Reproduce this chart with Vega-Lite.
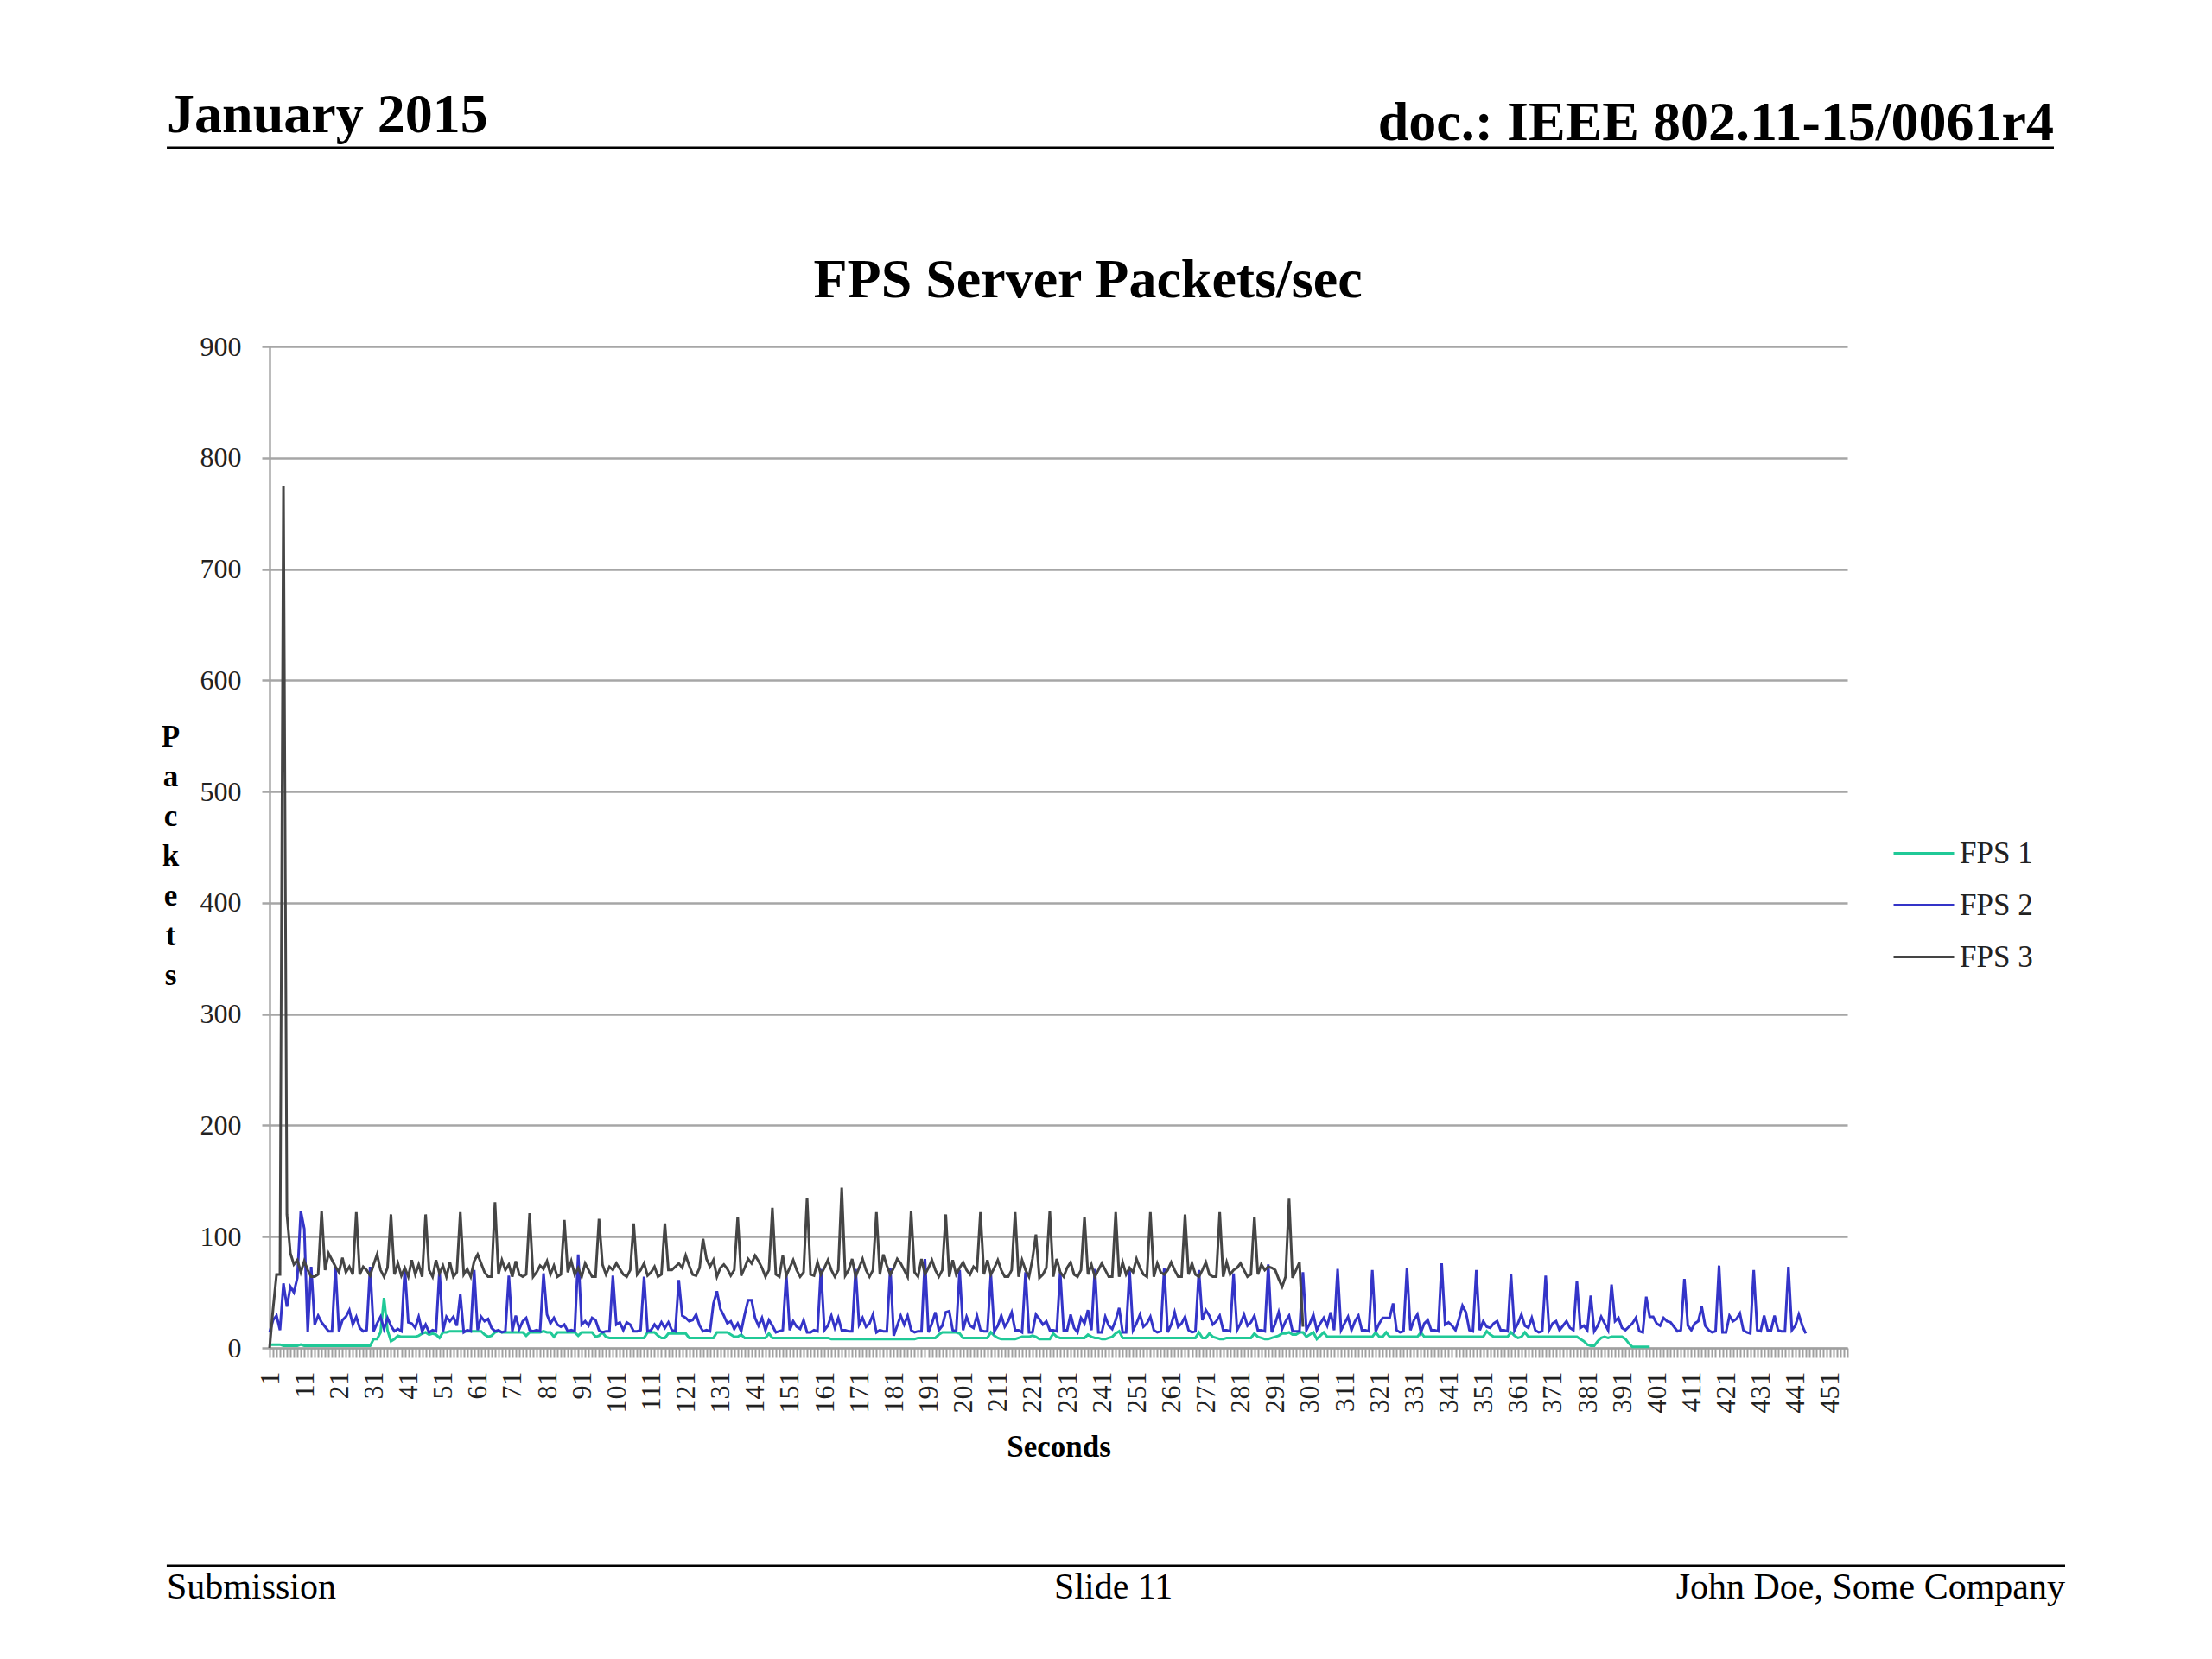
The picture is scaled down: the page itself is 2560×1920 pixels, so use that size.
{
  "$schema": "https://vega.github.io/schema/vega-lite/v6.json",
  "description": "FPS Server Packets/sec slide",
  "background": "white",
  "padding": {"left": 186, "top": 101, "right": 10, "bottom": 10},
  "columns": 1,
  "align": "none",
  "spacing": 118,
  "resolve": {"scale": {"color": "independent"}, "legend": {"color": "independent"}},
  "config": {"view": {"stroke": null}, "font": "Liberation Serif"},
  "concat": [
    {
      "width": 2065,
      "height": 70,
      "data": {"values": [{}]},
      "layer": [
        {
          "mark": {"type": "rule", "color": "black", "strokeWidth": 3},
          "encoding": {
            "x": {"datum": -0.0576, "type": "quantitative", "scale": {"domain": [0, 1]}, "axis": null},
            "x2": {"datum": 1},
            "y": {"datum": 0, "type": "quantitative", "scale": {"domain": [0, 1]}, "axis": null}
          }
        },
        {
          "mark": {"type": "text", "text": "January 2015", "align": "left", "baseline": "alphabetic", "font": "Liberation Serif", "fontSize": 64, "fontWeight": "bold", "color": "black"},
          "encoding": {
            "x": {"datum": -0.0576, "type": "quantitative", "axis": null},
            "y": {"datum": 0.257, "type": "quantitative", "axis": null}
          }
        },
        {
          "mark": {"type": "text", "text": "doc.: IEEE 802.11-15/0061r4", "align": "right", "baseline": "alphabetic", "font": "Liberation Serif", "fontSize": 64, "fontWeight": "bold", "color": "black"},
          "encoding": {
            "x": {"datum": 1, "type": "quantitative", "axis": null},
            "y": {"datum": 0.129, "type": "quantitative", "axis": null}
          }
        }
      ]
    },
    {
      "width": 1826,
      "height": 1159,
      "title": {"text": "FPS Server Packets/sec", "font": "Liberation Serif", "fontSize": 64, "fontWeight": "bold", "color": "black", "anchor": "middle", "frame": "group", "dx": 34, "offset": 28},
      "data": {"values": [
        {"t":1,"FPS 1":3,"FPS 2":14,"FPS 3":0},
        {"t":2,"FPS 1":3,"FPS 2":25,"FPS 3":35},
        {"t":3,"FPS 1":3,"FPS 2":29,"FPS 3":66},
        {"t":4,"FPS 1":3,"FPS 2":16,"FPS 3":66},
        {"t":5,"FPS 1":2,"FPS 2":58,"FPS 3":775},
        {"t":6,"FPS 1":2,"FPS 2":37,"FPS 3":120},
        {"t":7,"FPS 1":2,"FPS 2":55,"FPS 3":85},
        {"t":8,"FPS 1":2,"FPS 2":50,"FPS 3":75},
        {"t":9,"FPS 1":2,"FPS 2":63,"FPS 3":79},
        {"t":10,"FPS 1":3,"FPS 2":123,"FPS 3":68},
        {"t":11,"FPS 1":2,"FPS 2":107,"FPS 3":78},
        {"t":12,"FPS 1":2,"FPS 2":14,"FPS 3":70},
        {"t":13,"FPS 1":2,"FPS 2":73,"FPS 3":64},
        {"t":14,"FPS 1":2,"FPS 2":21,"FPS 3":64},
        {"t":15,"FPS 1":2,"FPS 2":29,"FPS 3":66},
        {"t":16,"FPS 1":2,"FPS 2":23,"FPS 3":123},
        {"t":17,"FPS 1":2,"FPS 2":19,"FPS 3":70},
        {"t":18,"FPS 1":2,"FPS 2":15,"FPS 3":85},
        {"t":19,"FPS 1":2,"FPS 2":15,"FPS 3":79},
        {"t":20,"FPS 1":2,"FPS 2":73,"FPS 3":73},
        {"t":21,"FPS 1":2,"FPS 2":15,"FPS 3":68},
        {"t":22,"FPS 1":2,"FPS 2":25,"FPS 3":81},
        {"t":23,"FPS 1":2,"FPS 2":28,"FPS 3":68},
        {"t":24,"FPS 1":2,"FPS 2":34,"FPS 3":73},
        {"t":25,"FPS 1":2,"FPS 2":21,"FPS 3":66},
        {"t":26,"FPS 1":2,"FPS 2":28,"FPS 3":122},
        {"t":27,"FPS 1":2,"FPS 2":18,"FPS 3":66},
        {"t":28,"FPS 1":2,"FPS 2":15,"FPS 3":73},
        {"t":29,"FPS 1":2,"FPS 2":16,"FPS 3":70},
        {"t":30,"FPS 1":2,"FPS 2":73,"FPS 3":65},
        {"t":31,"FPS 1":8,"FPS 2":15,"FPS 3":75},
        {"t":32,"FPS 1":8,"FPS 2":22,"FPS 3":84},
        {"t":33,"FPS 1":14,"FPS 2":28,"FPS 3":70},
        {"t":34,"FPS 1":45,"FPS 2":17,"FPS 3":64},
        {"t":35,"FPS 1":16,"FPS 2":27,"FPS 3":72},
        {"t":36,"FPS 1":6,"FPS 2":20,"FPS 3":120},
        {"t":37,"FPS 1":8,"FPS 2":15,"FPS 3":66},
        {"t":38,"FPS 1":11,"FPS 2":17,"FPS 3":76},
        {"t":39,"FPS 1":10,"FPS 2":15,"FPS 3":65},
        {"t":40,"FPS 1":10,"FPS 2":72,"FPS 3":72},
        {"t":41,"FPS 1":10,"FPS 2":23,"FPS 3":64},
        {"t":42,"FPS 1":10,"FPS 2":22,"FPS 3":79},
        {"t":43,"FPS 1":10,"FPS 2":18,"FPS 3":66},
        {"t":44,"FPS 1":11,"FPS 2":28,"FPS 3":75},
        {"t":45,"FPS 1":13,"FPS 2":15,"FPS 3":64},
        {"t":46,"FPS 1":14,"FPS 2":21,"FPS 3":120},
        {"t":47,"FPS 1":12,"FPS 2":14,"FPS 3":70},
        {"t":48,"FPS 1":13,"FPS 2":16,"FPS 3":64},
        {"t":49,"FPS 1":12,"FPS 2":15,"FPS 3":79},
        {"t":50,"FPS 1":9,"FPS 2":70,"FPS 3":67},
        {"t":51,"FPS 1":14,"FPS 2":15,"FPS 3":74},
        {"t":52,"FPS 1":14,"FPS 2":28,"FPS 3":64},
        {"t":53,"FPS 1":15,"FPS 2":24,"FPS 3":77},
        {"t":54,"FPS 1":15,"FPS 2":28,"FPS 3":64},
        {"t":55,"FPS 1":15,"FPS 2":20,"FPS 3":68},
        {"t":56,"FPS 1":15,"FPS 2":48,"FPS 3":122},
        {"t":57,"FPS 1":15,"FPS 2":14,"FPS 3":66},
        {"t":58,"FPS 1":15,"FPS 2":16,"FPS 3":71},
        {"t":59,"FPS 1":15,"FPS 2":15,"FPS 3":64},
        {"t":60,"FPS 1":15,"FPS 2":70,"FPS 3":78},
        {"t":61,"FPS 1":15,"FPS 2":16,"FPS 3":84},
        {"t":62,"FPS 1":15,"FPS 2":28,"FPS 3":76},
        {"t":63,"FPS 1":12,"FPS 2":24,"FPS 3":68},
        {"t":64,"FPS 1":10,"FPS 2":26,"FPS 3":64},
        {"t":65,"FPS 1":11,"FPS 2":18,"FPS 3":64},
        {"t":66,"FPS 1":14,"FPS 2":15,"FPS 3":131},
        {"t":67,"FPS 1":15,"FPS 2":16,"FPS 3":66},
        {"t":68,"FPS 1":14,"FPS 2":14,"FPS 3":79},
        {"t":69,"FPS 1":14,"FPS 2":15,"FPS 3":70},
        {"t":70,"FPS 1":14,"FPS 2":65,"FPS 3":75},
        {"t":71,"FPS 1":14,"FPS 2":15,"FPS 3":64},
        {"t":72,"FPS 1":14,"FPS 2":29,"FPS 3":78},
        {"t":73,"FPS 1":14,"FPS 2":17,"FPS 3":66},
        {"t":74,"FPS 1":14,"FPS 2":24,"FPS 3":64},
        {"t":75,"FPS 1":11,"FPS 2":27,"FPS 3":66},
        {"t":76,"FPS 1":14,"FPS 2":16,"FPS 3":121},
        {"t":77,"FPS 1":14,"FPS 2":15,"FPS 3":64},
        {"t":78,"FPS 1":14,"FPS 2":16,"FPS 3":68},
        {"t":79,"FPS 1":14,"FPS 2":15,"FPS 3":74},
        {"t":80,"FPS 1":15,"FPS 2":67,"FPS 3":71},
        {"t":81,"FPS 1":14,"FPS 2":30,"FPS 3":78},
        {"t":82,"FPS 1":14,"FPS 2":22,"FPS 3":66},
        {"t":83,"FPS 1":10,"FPS 2":27,"FPS 3":74},
        {"t":84,"FPS 1":14,"FPS 2":21,"FPS 3":64},
        {"t":85,"FPS 1":14,"FPS 2":19,"FPS 3":66},
        {"t":86,"FPS 1":14,"FPS 2":21,"FPS 3":115},
        {"t":87,"FPS 1":14,"FPS 2":15,"FPS 3":68},
        {"t":88,"FPS 1":14,"FPS 2":16,"FPS 3":78},
        {"t":89,"FPS 1":14,"FPS 2":15,"FPS 3":66},
        {"t":90,"FPS 1":11,"FPS 2":84,"FPS 3":72},
        {"t":91,"FPS 1":14,"FPS 2":21,"FPS 3":64},
        {"t":92,"FPS 1":14,"FPS 2":24,"FPS 3":76},
        {"t":93,"FPS 1":14,"FPS 2":20,"FPS 3":70},
        {"t":94,"FPS 1":14,"FPS 2":27,"FPS 3":64},
        {"t":95,"FPS 1":10,"FPS 2":25,"FPS 3":64},
        {"t":96,"FPS 1":11,"FPS 2":16,"FPS 3":116},
        {"t":97,"FPS 1":14,"FPS 2":14,"FPS 3":75},
        {"t":98,"FPS 1":10,"FPS 2":15,"FPS 3":66},
        {"t":99,"FPS 1":9,"FPS 2":15,"FPS 3":73},
        {"t":100,"FPS 1":9,"FPS 2":65,"FPS 3":70},
        {"t":101,"FPS 1":9,"FPS 2":21,"FPS 3":76},
        {"t":102,"FPS 1":9,"FPS 2":23,"FPS 3":71},
        {"t":103,"FPS 1":9,"FPS 2":16,"FPS 3":66},
        {"t":104,"FPS 1":9,"FPS 2":23,"FPS 3":64},
        {"t":105,"FPS 1":9,"FPS 2":21,"FPS 3":70},
        {"t":106,"FPS 1":9,"FPS 2":15,"FPS 3":112},
        {"t":107,"FPS 1":9,"FPS 2":15,"FPS 3":66},
        {"t":108,"FPS 1":9,"FPS 2":16,"FPS 3":70},
        {"t":109,"FPS 1":9,"FPS 2":64,"FPS 3":76},
        {"t":110,"FPS 1":14,"FPS 2":15,"FPS 3":65},
        {"t":111,"FPS 1":14,"FPS 2":16,"FPS 3":68},
        {"t":112,"FPS 1":14,"FPS 2":21,"FPS 3":73},
        {"t":113,"FPS 1":11,"FPS 2":17,"FPS 3":64},
        {"t":114,"FPS 1":9,"FPS 2":23,"FPS 3":66},
        {"t":115,"FPS 1":9,"FPS 2":18,"FPS 3":112},
        {"t":116,"FPS 1":13,"FPS 2":23,"FPS 3":70},
        {"t":117,"FPS 1":13,"FPS 2":16,"FPS 3":70},
        {"t":118,"FPS 1":13,"FPS 2":15,"FPS 3":73},
        {"t":119,"FPS 1":13,"FPS 2":61,"FPS 3":76},
        {"t":120,"FPS 1":13,"FPS 2":29,"FPS 3":72},
        {"t":121,"FPS 1":13,"FPS 2":27,"FPS 3":83},
        {"t":122,"FPS 1":9,"FPS 2":24,"FPS 3":74},
        {"t":123,"FPS 1":9,"FPS 2":25,"FPS 3":66},
        {"t":124,"FPS 1":9,"FPS 2":30,"FPS 3":65},
        {"t":125,"FPS 1":9,"FPS 2":20,"FPS 3":72},
        {"t":126,"FPS 1":9,"FPS 2":15,"FPS 3":98},
        {"t":127,"FPS 1":9,"FPS 2":16,"FPS 3":80},
        {"t":128,"FPS 1":9,"FPS 2":15,"FPS 3":73},
        {"t":129,"FPS 1":9,"FPS 2":40,"FPS 3":79},
        {"t":130,"FPS 1":14,"FPS 2":51,"FPS 3":64},
        {"t":131,"FPS 1":14,"FPS 2":35,"FPS 3":72},
        {"t":132,"FPS 1":14,"FPS 2":29,"FPS 3":75},
        {"t":133,"FPS 1":14,"FPS 2":22,"FPS 3":71},
        {"t":134,"FPS 1":12,"FPS 2":24,"FPS 3":65},
        {"t":135,"FPS 1":10,"FPS 2":17,"FPS 3":70},
        {"t":136,"FPS 1":10,"FPS 2":22,"FPS 3":118},
        {"t":137,"FPS 1":12,"FPS 2":15,"FPS 3":65},
        {"t":138,"FPS 1":9,"FPS 2":30,"FPS 3":72},
        {"t":139,"FPS 1":9,"FPS 2":43,"FPS 3":80},
        {"t":140,"FPS 1":9,"FPS 2":43,"FPS 3":76},
        {"t":141,"FPS 1":9,"FPS 2":27,"FPS 3":83},
        {"t":142,"FPS 1":9,"FPS 2":20,"FPS 3":78},
        {"t":143,"FPS 1":9,"FPS 2":27,"FPS 3":72},
        {"t":144,"FPS 1":9,"FPS 2":16,"FPS 3":64},
        {"t":145,"FPS 1":13,"FPS 2":25,"FPS 3":70},
        {"t":146,"FPS 1":9,"FPS 2":20,"FPS 3":126},
        {"t":147,"FPS 1":9,"FPS 2":14,"FPS 3":66},
        {"t":148,"FPS 1":9,"FPS 2":15,"FPS 3":64},
        {"t":149,"FPS 1":9,"FPS 2":16,"FPS 3":83},
        {"t":150,"FPS 1":9,"FPS 2":66,"FPS 3":65},
        {"t":151,"FPS 1":9,"FPS 2":16,"FPS 3":72},
        {"t":152,"FPS 1":9,"FPS 2":24,"FPS 3":79},
        {"t":153,"FPS 1":9,"FPS 2":19,"FPS 3":70},
        {"t":154,"FPS 1":9,"FPS 2":17,"FPS 3":64},
        {"t":155,"FPS 1":9,"FPS 2":25,"FPS 3":68},
        {"t":156,"FPS 1":9,"FPS 2":14,"FPS 3":135},
        {"t":157,"FPS 1":9,"FPS 2":14,"FPS 3":66},
        {"t":158,"FPS 1":9,"FPS 2":16,"FPS 3":65},
        {"t":159,"FPS 1":9,"FPS 2":15,"FPS 3":77},
        {"t":160,"FPS 1":9,"FPS 2":71,"FPS 3":66},
        {"t":161,"FPS 1":9,"FPS 2":16,"FPS 3":72},
        {"t":162,"FPS 1":9,"FPS 2":20,"FPS 3":79},
        {"t":163,"FPS 1":8,"FPS 2":29,"FPS 3":70},
        {"t":164,"FPS 1":8,"FPS 2":18,"FPS 3":64},
        {"t":165,"FPS 1":8,"FPS 2":27,"FPS 3":70},
        {"t":166,"FPS 1":8,"FPS 2":16,"FPS 3":144},
        {"t":167,"FPS 1":8,"FPS 2":16,"FPS 3":65},
        {"t":168,"FPS 1":8,"FPS 2":15,"FPS 3":70},
        {"t":169,"FPS 1":8,"FPS 2":15,"FPS 3":80},
        {"t":170,"FPS 1":8,"FPS 2":71,"FPS 3":64},
        {"t":171,"FPS 1":8,"FPS 2":21,"FPS 3":72},
        {"t":172,"FPS 1":8,"FPS 2":27,"FPS 3":80},
        {"t":173,"FPS 1":8,"FPS 2":19,"FPS 3":70},
        {"t":174,"FPS 1":8,"FPS 2":22,"FPS 3":64},
        {"t":175,"FPS 1":8,"FPS 2":30,"FPS 3":70},
        {"t":176,"FPS 1":8,"FPS 2":14,"FPS 3":122},
        {"t":177,"FPS 1":8,"FPS 2":16,"FPS 3":66},
        {"t":178,"FPS 1":8,"FPS 2":15,"FPS 3":84},
        {"t":179,"FPS 1":8,"FPS 2":15,"FPS 3":74},
        {"t":180,"FPS 1":8,"FPS 2":72,"FPS 3":66},
        {"t":181,"FPS 1":8,"FPS 2":11,"FPS 3":72},
        {"t":182,"FPS 1":8,"FPS 2":20,"FPS 3":80},
        {"t":183,"FPS 1":8,"FPS 2":29,"FPS 3":76},
        {"t":184,"FPS 1":8,"FPS 2":21,"FPS 3":70},
        {"t":185,"FPS 1":8,"FPS 2":29,"FPS 3":64},
        {"t":186,"FPS 1":8,"FPS 2":16,"FPS 3":123},
        {"t":187,"FPS 1":8,"FPS 2":14,"FPS 3":68},
        {"t":188,"FPS 1":9,"FPS 2":15,"FPS 3":64},
        {"t":189,"FPS 1":9,"FPS 2":15,"FPS 3":80},
        {"t":190,"FPS 1":9,"FPS 2":80,"FPS 3":66},
        {"t":191,"FPS 1":9,"FPS 2":14,"FPS 3":72},
        {"t":192,"FPS 1":9,"FPS 2":22,"FPS 3":79},
        {"t":193,"FPS 1":9,"FPS 2":32,"FPS 3":70},
        {"t":194,"FPS 1":12,"FPS 2":16,"FPS 3":64},
        {"t":195,"FPS 1":14,"FPS 2":20,"FPS 3":70},
        {"t":196,"FPS 1":14,"FPS 2":32,"FPS 3":120},
        {"t":197,"FPS 1":14,"FPS 2":33,"FPS 3":64},
        {"t":198,"FPS 1":14,"FPS 2":16,"FPS 3":79},
        {"t":199,"FPS 1":14,"FPS 2":15,"FPS 3":66},
        {"t":200,"FPS 1":13,"FPS 2":70,"FPS 3":72},
        {"t":201,"FPS 1":9,"FPS 2":16,"FPS 3":77},
        {"t":202,"FPS 1":9,"FPS 2":28,"FPS 3":70},
        {"t":203,"FPS 1":9,"FPS 2":20,"FPS 3":66},
        {"t":204,"FPS 1":9,"FPS 2":18,"FPS 3":73},
        {"t":205,"FPS 1":9,"FPS 2":29,"FPS 3":70},
        {"t":206,"FPS 1":9,"FPS 2":16,"FPS 3":122},
        {"t":207,"FPS 1":9,"FPS 2":15,"FPS 3":66},
        {"t":208,"FPS 1":9,"FPS 2":15,"FPS 3":79},
        {"t":209,"FPS 1":14,"FPS 2":66,"FPS 3":66},
        {"t":210,"FPS 1":11,"FPS 2":15,"FPS 3":72},
        {"t":211,"FPS 1":9,"FPS 2":20,"FPS 3":79},
        {"t":212,"FPS 1":8,"FPS 2":29,"FPS 3":70},
        {"t":213,"FPS 1":8,"FPS 2":19,"FPS 3":64},
        {"t":214,"FPS 1":8,"FPS 2":24,"FPS 3":64},
        {"t":215,"FPS 1":8,"FPS 2":32,"FPS 3":70},
        {"t":216,"FPS 1":8,"FPS 2":16,"FPS 3":122},
        {"t":217,"FPS 1":9,"FPS 2":16,"FPS 3":64},
        {"t":218,"FPS 1":10,"FPS 2":14,"FPS 3":79},
        {"t":219,"FPS 1":10,"FPS 2":68,"FPS 3":70},
        {"t":220,"FPS 1":10,"FPS 2":14,"FPS 3":64},
        {"t":221,"FPS 1":11,"FPS 2":14,"FPS 3":80},
        {"t":222,"FPS 1":10,"FPS 2":30,"FPS 3":102},
        {"t":223,"FPS 1":8,"FPS 2":26,"FPS 3":63},
        {"t":224,"FPS 1":8,"FPS 2":21,"FPS 3":66},
        {"t":225,"FPS 1":8,"FPS 2":24,"FPS 3":72},
        {"t":226,"FPS 1":8,"FPS 2":16,"FPS 3":123},
        {"t":227,"FPS 1":13,"FPS 2":16,"FPS 3":64},
        {"t":228,"FPS 1":10,"FPS 2":15,"FPS 3":80},
        {"t":229,"FPS 1":9,"FPS 2":68,"FPS 3":68},
        {"t":230,"FPS 1":9,"FPS 2":16,"FPS 3":64},
        {"t":231,"FPS 1":9,"FPS 2":16,"FPS 3":72},
        {"t":232,"FPS 1":9,"FPS 2":30,"FPS 3":77},
        {"t":233,"FPS 1":9,"FPS 2":18,"FPS 3":66},
        {"t":234,"FPS 1":9,"FPS 2":14,"FPS 3":64},
        {"t":235,"FPS 1":9,"FPS 2":27,"FPS 3":70},
        {"t":236,"FPS 1":9,"FPS 2":22,"FPS 3":118},
        {"t":237,"FPS 1":12,"FPS 2":34,"FPS 3":66},
        {"t":238,"FPS 1":10,"FPS 2":16,"FPS 3":75},
        {"t":239,"FPS 1":9,"FPS 2":71,"FPS 3":64},
        {"t":240,"FPS 1":9,"FPS 2":14,"FPS 3":70},
        {"t":241,"FPS 1":8,"FPS 2":14,"FPS 3":76},
        {"t":242,"FPS 1":8,"FPS 2":28,"FPS 3":70},
        {"t":243,"FPS 1":9,"FPS 2":20,"FPS 3":64},
        {"t":244,"FPS 1":10,"FPS 2":17,"FPS 3":64},
        {"t":245,"FPS 1":13,"FPS 2":25,"FPS 3":122},
        {"t":246,"FPS 1":15,"FPS 2":36,"FPS 3":64},
        {"t":247,"FPS 1":9,"FPS 2":14,"FPS 3":77},
        {"t":248,"FPS 1":9,"FPS 2":14,"FPS 3":66},
        {"t":249,"FPS 1":9,"FPS 2":70,"FPS 3":72},
        {"t":250,"FPS 1":9,"FPS 2":16,"FPS 3":68},
        {"t":251,"FPS 1":9,"FPS 2":22,"FPS 3":80},
        {"t":252,"FPS 1":9,"FPS 2":30,"FPS 3":72},
        {"t":253,"FPS 1":9,"FPS 2":19,"FPS 3":66},
        {"t":254,"FPS 1":9,"FPS 2":22,"FPS 3":64},
        {"t":255,"FPS 1":9,"FPS 2":28,"FPS 3":122},
        {"t":256,"FPS 1":9,"FPS 2":16,"FPS 3":64},
        {"t":257,"FPS 1":9,"FPS 2":14,"FPS 3":76},
        {"t":258,"FPS 1":9,"FPS 2":15,"FPS 3":68},
        {"t":259,"FPS 1":9,"FPS 2":72,"FPS 3":66},
        {"t":260,"FPS 1":9,"FPS 2":14,"FPS 3":70},
        {"t":261,"FPS 1":9,"FPS 2":21,"FPS 3":77},
        {"t":262,"FPS 1":9,"FPS 2":32,"FPS 3":70},
        {"t":263,"FPS 1":9,"FPS 2":19,"FPS 3":64},
        {"t":264,"FPS 1":9,"FPS 2":22,"FPS 3":64},
        {"t":265,"FPS 1":9,"FPS 2":28,"FPS 3":120},
        {"t":266,"FPS 1":9,"FPS 2":16,"FPS 3":66},
        {"t":267,"FPS 1":9,"FPS 2":14,"FPS 3":76},
        {"t":268,"FPS 1":9,"FPS 2":15,"FPS 3":66},
        {"t":269,"FPS 1":14,"FPS 2":70,"FPS 3":64},
        {"t":270,"FPS 1":9,"FPS 2":25,"FPS 3":70},
        {"t":271,"FPS 1":9,"FPS 2":34,"FPS 3":77},
        {"t":272,"FPS 1":13,"FPS 2":29,"FPS 3":66},
        {"t":273,"FPS 1":10,"FPS 2":21,"FPS 3":64},
        {"t":274,"FPS 1":9,"FPS 2":24,"FPS 3":64},
        {"t":275,"FPS 1":8,"FPS 2":29,"FPS 3":122},
        {"t":276,"FPS 1":8,"FPS 2":16,"FPS 3":64},
        {"t":277,"FPS 1":9,"FPS 2":16,"FPS 3":77},
        {"t":278,"FPS 1":9,"FPS 2":15,"FPS 3":66},
        {"t":279,"FPS 1":9,"FPS 2":67,"FPS 3":70},
        {"t":280,"FPS 1":9,"FPS 2":16,"FPS 3":72},
        {"t":281,"FPS 1":9,"FPS 2":22,"FPS 3":76},
        {"t":282,"FPS 1":9,"FPS 2":30,"FPS 3":70},
        {"t":283,"FPS 1":9,"FPS 2":20,"FPS 3":64},
        {"t":284,"FPS 1":9,"FPS 2":23,"FPS 3":66},
        {"t":285,"FPS 1":13,"FPS 2":29,"FPS 3":118},
        {"t":286,"FPS 1":10,"FPS 2":16,"FPS 3":66},
        {"t":287,"FPS 1":9,"FPS 2":16,"FPS 3":75},
        {"t":288,"FPS 1":8,"FPS 2":15,"FPS 3":70},
        {"t":289,"FPS 1":8,"FPS 2":75,"FPS 3":73},
        {"t":290,"FPS 1":9,"FPS 2":14,"FPS 3":72},
        {"t":291,"FPS 1":10,"FPS 2":22,"FPS 3":70},
        {"t":292,"FPS 1":11,"FPS 2":32,"FPS 3":62},
        {"t":293,"FPS 1":13,"FPS 2":17,"FPS 3":55},
        {"t":294,"FPS 1":13,"FPS 2":24,"FPS 3":64},
        {"t":295,"FPS 1":14,"FPS 2":29,"FPS 3":134},
        {"t":296,"FPS 1":12,"FPS 2":15,"FPS 3":63},
        {"t":297,"FPS 1":12,"FPS 2":15,"FPS 3":70},
        {"t":298,"FPS 1":14,"FPS 2":15,"FPS 3":77},
        {"t":299,"FPS 1":14,"FPS 2":68,"FPS 3":19},
        {"t":300,"FPS 1":10,"FPS 2":16},
        {"t":301,"FPS 1":12,"FPS 2":22},
        {"t":302,"FPS 1":14,"FPS 2":30},
        {"t":303,"FPS 1":8,"FPS 2":16},
        {"t":304,"FPS 1":11,"FPS 2":22},
        {"t":305,"FPS 1":14,"FPS 2":27},
        {"t":306,"FPS 1":10,"FPS 2":20},
        {"t":307,"FPS 1":10,"FPS 2":32},
        {"t":308,"FPS 1":10,"FPS 2":16},
        {"t":309,"FPS 1":10,"FPS 2":71},
        {"t":310,"FPS 1":10,"FPS 2":16},
        {"t":311,"FPS 1":10,"FPS 2":22},
        {"t":312,"FPS 1":10,"FPS 2":28},
        {"t":313,"FPS 1":10,"FPS 2":16},
        {"t":314,"FPS 1":10,"FPS 2":24},
        {"t":315,"FPS 1":10,"FPS 2":29},
        {"t":316,"FPS 1":10,"FPS 2":16},
        {"t":317,"FPS 1":10,"FPS 2":16},
        {"t":318,"FPS 1":10,"FPS 2":15},
        {"t":319,"FPS 1":10,"FPS 2":70},
        {"t":320,"FPS 1":14,"FPS 2":15},
        {"t":321,"FPS 1":10,"FPS 2":22},
        {"t":322,"FPS 1":10,"FPS 2":27},
        {"t":323,"FPS 1":14,"FPS 2":27},
        {"t":324,"FPS 1":10,"FPS 2":27},
        {"t":325,"FPS 1":10,"FPS 2":40},
        {"t":326,"FPS 1":10,"FPS 2":16},
        {"t":327,"FPS 1":10,"FPS 2":14},
        {"t":328,"FPS 1":10,"FPS 2":15},
        {"t":329,"FPS 1":10,"FPS 2":72},
        {"t":330,"FPS 1":10,"FPS 2":16},
        {"t":331,"FPS 1":10,"FPS 2":25},
        {"t":332,"FPS 1":10,"FPS 2":30},
        {"t":333,"FPS 1":14,"FPS 2":14},
        {"t":334,"FPS 1":10,"FPS 2":22},
        {"t":335,"FPS 1":10,"FPS 2":25},
        {"t":336,"FPS 1":10,"FPS 2":16},
        {"t":337,"FPS 1":10,"FPS 2":16},
        {"t":338,"FPS 1":10,"FPS 2":15},
        {"t":339,"FPS 1":10,"FPS 2":76},
        {"t":340,"FPS 1":10,"FPS 2":21},
        {"t":341,"FPS 1":10,"FPS 2":23},
        {"t":342,"FPS 1":10,"FPS 2":20},
        {"t":343,"FPS 1":10,"FPS 2":16},
        {"t":344,"FPS 1":10,"FPS 2":26},
        {"t":345,"FPS 1":10,"FPS 2":38},
        {"t":346,"FPS 1":10,"FPS 2":32},
        {"t":347,"FPS 1":10,"FPS 2":16},
        {"t":348,"FPS 1":10,"FPS 2":15},
        {"t":349,"FPS 1":10,"FPS 2":70},
        {"t":350,"FPS 1":10,"FPS 2":16},
        {"t":351,"FPS 1":10,"FPS 2":24},
        {"t":352,"FPS 1":15,"FPS 2":19},
        {"t":353,"FPS 1":12,"FPS 2":18},
        {"t":354,"FPS 1":10,"FPS 2":22},
        {"t":355,"FPS 1":10,"FPS 2":24},
        {"t":356,"FPS 1":10,"FPS 2":16},
        {"t":357,"FPS 1":10,"FPS 2":16},
        {"t":358,"FPS 1":10,"FPS 2":15},
        {"t":359,"FPS 1":14,"FPS 2":66},
        {"t":360,"FPS 1":11,"FPS 2":16},
        {"t":361,"FPS 1":9,"FPS 2":22},
        {"t":362,"FPS 1":10,"FPS 2":30},
        {"t":363,"FPS 1":14,"FPS 2":20},
        {"t":364,"FPS 1":10,"FPS 2":18},
        {"t":365,"FPS 1":10,"FPS 2":27},
        {"t":366,"FPS 1":10,"FPS 2":16},
        {"t":367,"FPS 1":10,"FPS 2":14},
        {"t":368,"FPS 1":10,"FPS 2":15},
        {"t":369,"FPS 1":10,"FPS 2":65},
        {"t":370,"FPS 1":10,"FPS 2":16},
        {"t":371,"FPS 1":10,"FPS 2":22},
        {"t":372,"FPS 1":10,"FPS 2":24},
        {"t":373,"FPS 1":10,"FPS 2":16},
        {"t":374,"FPS 1":10,"FPS 2":20},
        {"t":375,"FPS 1":10,"FPS 2":24},
        {"t":376,"FPS 1":10,"FPS 2":18},
        {"t":377,"FPS 1":10,"FPS 2":16},
        {"t":378,"FPS 1":10,"FPS 2":60},
        {"t":379,"FPS 1":8,"FPS 2":18},
        {"t":380,"FPS 1":6,"FPS 2":20},
        {"t":381,"FPS 1":3,"FPS 2":16},
        {"t":382,"FPS 1":2,"FPS 2":47},
        {"t":383,"FPS 1":2,"FPS 2":15},
        {"t":384,"FPS 1":6,"FPS 2":20},
        {"t":385,"FPS 1":9,"FPS 2":28},
        {"t":386,"FPS 1":10,"FPS 2":22},
        {"t":387,"FPS 1":9,"FPS 2":16},
        {"t":388,"FPS 1":10,"FPS 2":57},
        {"t":389,"FPS 1":10,"FPS 2":24},
        {"t":390,"FPS 1":10,"FPS 2":27},
        {"t":391,"FPS 1":10,"FPS 2":18},
        {"t":392,"FPS 1":8,"FPS 2":16},
        {"t":393,"FPS 1":4,"FPS 2":19},
        {"t":394,"FPS 1":1,"FPS 2":22},
        {"t":395,"FPS 1":1,"FPS 2":27},
        {"t":396,"FPS 1":1,"FPS 2":15},
        {"t":397,"FPS 1":1,"FPS 2":14},
        {"t":398,"FPS 1":1,"FPS 2":46},
        {"t":399,"FPS 1":1,"FPS 2":28},
        {"t":400,"FPS 2":28},
        {"t":401,"FPS 2":22},
        {"t":402,"FPS 2":20},
        {"t":403,"FPS 2":27},
        {"t":404,"FPS 2":24},
        {"t":405,"FPS 2":23},
        {"t":406,"FPS 2":19},
        {"t":407,"FPS 2":15},
        {"t":408,"FPS 2":16},
        {"t":409,"FPS 2":62},
        {"t":410,"FPS 2":20},
        {"t":411,"FPS 2":16},
        {"t":412,"FPS 2":22},
        {"t":413,"FPS 2":24},
        {"t":414,"FPS 2":37},
        {"t":415,"FPS 2":20},
        {"t":416,"FPS 2":16},
        {"t":417,"FPS 2":14},
        {"t":418,"FPS 2":15},
        {"t":419,"FPS 2":74},
        {"t":420,"FPS 2":14},
        {"t":421,"FPS 2":14},
        {"t":422,"FPS 2":29},
        {"t":423,"FPS 2":24},
        {"t":424,"FPS 2":26},
        {"t":425,"FPS 2":31},
        {"t":426,"FPS 2":16},
        {"t":427,"FPS 2":14},
        {"t":428,"FPS 2":13},
        {"t":429,"FPS 2":70},
        {"t":430,"FPS 2":16},
        {"t":431,"FPS 2":15},
        {"t":432,"FPS 2":29},
        {"t":433,"FPS 2":16},
        {"t":434,"FPS 2":16},
        {"t":435,"FPS 2":29},
        {"t":436,"FPS 2":16},
        {"t":437,"FPS 2":15},
        {"t":438,"FPS 2":15},
        {"t":439,"FPS 2":73},
        {"t":440,"FPS 2":16},
        {"t":441,"FPS 2":20},
        {"t":442,"FPS 2":30},
        {"t":443,"FPS 2":20},
        {"t":444,"FPS 2":13}
      ]},
      "transform": [{"fold": ["FPS 1", "FPS 2", "FPS 3"], "as": ["series", "packets"]}],
      "mark": {"type": "line", "strokeWidth": 3},
      "encoding": {
        "x": {
          "field": "t",
          "type": "quantitative",
          "scale": {"domain": [1, 456], "nice": false, "zero": false},
          "axis": {
            "title": "Seconds",
            "tickCount": 455,
            "labelExpr": "(datum.value - 1) % 10 == 0 ? datum.label : ''",
            "labelOverlap": false,
            "labelFlush": false,
            "labelBound": false,
            "labelAngle": 270,
            "labelFont": "Liberation Serif",
            "labelFontSize": 32,
            "labelColor": "#222222",
            "labelPadding": 16,
            "tickSize": 11,
            "tickWidth": 2,
            "tickColor": "#a0a0a0",
            "domainColor": "#a0a0a0",
            "domainWidth": 2,
            "grid": false,
            "titleFont": "Liberation Serif",
            "titleFontSize": 35,
            "titleFontWeight": "bold",
            "titleColor": "black",
            "titlePadding": 22
          }
        },
        "y": {
          "field": "packets",
          "type": "quantitative",
          "scale": {"domain": [0, 900], "nice": false},
          "axis": {
            "values": [0, 100, 200, 300, 400, 500, 600, 700, 800, 900],
            "grid": true,
            "gridColor": "#a6a6a6",
            "gridWidth": 2.5,
            "domainColor": "#a6a6a6",
            "domainWidth": 2.5,
            "tickColor": "#a6a6a6",
            "tickWidth": 2.5,
            "tickSize": 9,
            "labelFont": "Liberation Serif",
            "labelFontSize": 32,
            "labelColor": "#222222",
            "labelPadding": 24,
            "title": ["P", "a", "c", "k", "e", "t", "s"],
            "titleFont": "Liberation Serif",
            "titleFontSize": 35,
            "titleFontWeight": "bold",
            "titleColor": "black",
            "titleAngle": 0,
            "titleAlign": "center",
            "titleBaseline": "middle",
            "titleLineHeight": 46,
            "titleX": -115,
            "titleY": 451
          }
        },
        "color": {
          "field": "series",
          "type": "nominal",
          "scale": {"domain": ["FPS 1", "FPS 2", "FPS 3"], "range": ["#20c997", "#3434c8", "#454545"]},
          "legend": {
            "title": null,
            "orient": "none",
            "legendX": 1878,
            "legendY": 550,
            "symbolType": "stroke",
            "symbolSize": 4900,
            "symbolStrokeWidth": 3,
            "labelFont": "Liberation Serif",
            "labelFontSize": 35,
            "labelColor": "#222222",
            "labelOffset": 5,
            "rowPadding": 5
          }
        }
      }
    },
    {
      "width": 2078,
      "height": 60,
      "data": {"values": [{}]},
      "layer": [
        {
          "mark": {"type": "rule", "color": "black", "strokeWidth": 3},
          "encoding": {
            "x": {"datum": -0.0573, "type": "quantitative", "scale": {"domain": [0, 1]}, "axis": null},
            "x2": {"datum": 1},
            "y": {"datum": 1, "type": "quantitative", "scale": {"domain": [0, 1]}, "axis": null}
          }
        },
        {
          "mark": {"type": "text", "text": "Submission", "align": "left", "baseline": "alphabetic", "font": "Liberation Serif", "fontSize": 42, "color": "black"},
          "encoding": {
            "x": {"datum": -0.0573, "type": "quantitative", "axis": null},
            "y": {"datum": 0.367, "type": "quantitative", "axis": null}
          }
        },
        {
          "mark": {"type": "text", "text": "Slide 11", "align": "center", "baseline": "alphabetic", "font": "Liberation Serif", "fontSize": 42, "color": "black"},
          "encoding": {
            "x": {"datum": 0.47, "type": "quantitative", "axis": null},
            "y": {"datum": 0.367, "type": "quantitative", "axis": null}
          }
        },
        {
          "mark": {"type": "text", "text": "John Doe, Some Company", "align": "right", "baseline": "alphabetic", "font": "Liberation Serif", "fontSize": 42, "color": "black"},
          "encoding": {
            "x": {"datum": 1, "type": "quantitative", "axis": null},
            "y": {"datum": 0.367, "type": "quantitative", "axis": null}
          }
        }
      ]
    }
  ]
}
